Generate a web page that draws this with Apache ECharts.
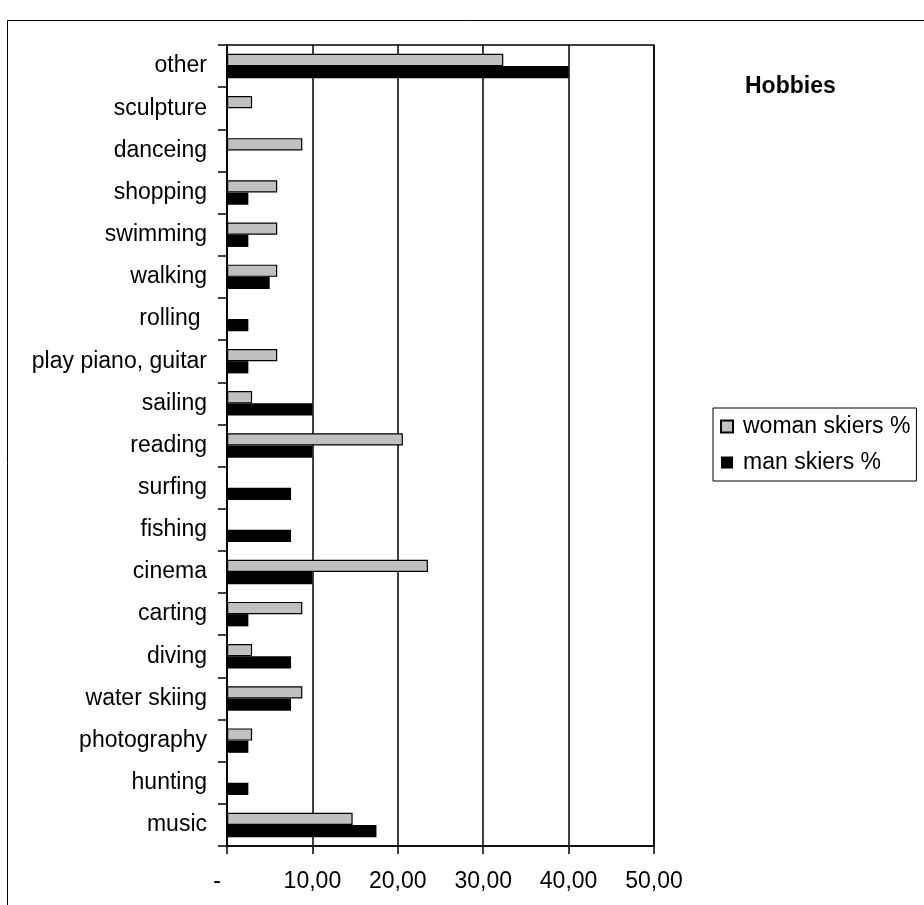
<!DOCTYPE html>
<html>
<head>
<meta charset="utf-8">
<script src="https://cdn.jsdelivr.net/npm/echarts@6/dist/echarts.min.js"></script>
<style>
  html, body { margin: 0; padding: 0; background: #fff; }
  #main { width: 924px; height: 905px; }
</style>
</head>
<body>
<div id="main"></div>
<script>
// categories, top to bottom
var categories = ['other', 'sculpture', 'danceing', 'shopping', 'swimming', 'walking', 'rolling ',
  'play piano, guitar', 'sailing', 'reading', 'surfing', 'fishing', 'cinema', 'carting', 'diving',
  'water skiing', 'photography', 'hunting', 'music'];

var womanSkiers = [32.35, 2.94, 8.82, 5.88, 5.88, 5.88, 0, 5.88, 2.94, 20.59, 0, 0, 23.53, 8.82, 2.94,
  8.82, 2.94, 0, 14.71];
var manSkiers = [40.0, 0, 0, 2.5, 2.5, 5.0, 2.5, 2.5, 10.0, 10.0, 7.5, 7.5, 10.0, 2.5, 7.5,
  7.5, 2.5, 2.5, 17.5];

var xTickLabels = ['-', '10,00', '20,00', '30,00', '40,00', '50,00'];

var chart = echarts.init(document.getElementById('main'));

var option = {
  animation: false,
  textStyle: { fontFamily: 'Arial, "Liberation Sans", sans-serif', color: '#000' },
  graphic: [{
    type: 'rect',
    shape: { x: 7.5, y: 20.5, width: 1000, height: 1000 },
    style: { fill: 'none', stroke: '#000', lineWidth: 1 },
    silent: true
  }],
  title: {
    text: 'Hobbies',
    left: 740,
    top: 70,
    textStyle: { fontSize: 23, fontWeight: 'bold', color: '#000' }
  },
  legend: {
    orient: 'vertical',
    left: 713,
    top: 408,
    borderColor: '#000',
    borderWidth: 1,
    padding: [7, 6, 7, 7],
    itemWidth: 12,
    itemHeight: 12,
    itemGap: 13,
    icon: 'rect',
    textStyle: { fontSize: 23, color: '#000', padding: [0, 0, 0, 5] },
    data: ['woman skiers %', 'man skiers %']
  },
  grid: {
    left: 227,
    top: 45,
    right: 270,
    bottom: 59,
    show: true,
    borderColor: '#000',
    borderWidth: 1.5
  },
  xAxis: {
    type: 'value',
    min: 0,
    max: 50,
    interval: 10,
    axisLine: { show: true, lineStyle: { color: '#000', width: 1.5 } },
    axisTick: { show: true, length: 8, lineStyle: { color: '#000', width: 1.5 } },
    splitLine: { show: true, lineStyle: { color: '#000', width: 1.5 } },
    axisLabel: {
      fontSize: 23,
      color: '#000',
      margin: 24,
      formatter: function (val) {
        var s = xTickLabels[Math.round(val / 10)];
        return val === 0 ? '{d|' + s + '}' : s;
      },
      rich: { d: { fontSize: 23, color: '#000', padding: [0, 20, 0, 0] } }
    }
  },
  yAxis: {
    type: 'category',
    inverse: true,
    data: categories,
    axisLine: { show: true, lineStyle: { color: '#000', width: 1.5 } },
    axisTick: { show: true, inside: false, length: 9, lineStyle: { color: '#000', width: 1.5 } },
    axisLabel: { fontSize: 23, color: '#000', margin: 20 }
  },
  series: [
    {
      name: 'woman skiers %',
      type: 'bar',
      data: womanSkiers,
      barGap: '0%',
      barCategoryGap: '42%',
      itemStyle: { color: '#c0c0c0', borderColor: '#000', borderWidth: 1.2 }
    },
    {
      name: 'man skiers %',
      type: 'bar',
      data: manSkiers,
      itemStyle: { color: '#000' }
    }
  ]
};

chart.setOption(option);
</script>
</body>
</html>
